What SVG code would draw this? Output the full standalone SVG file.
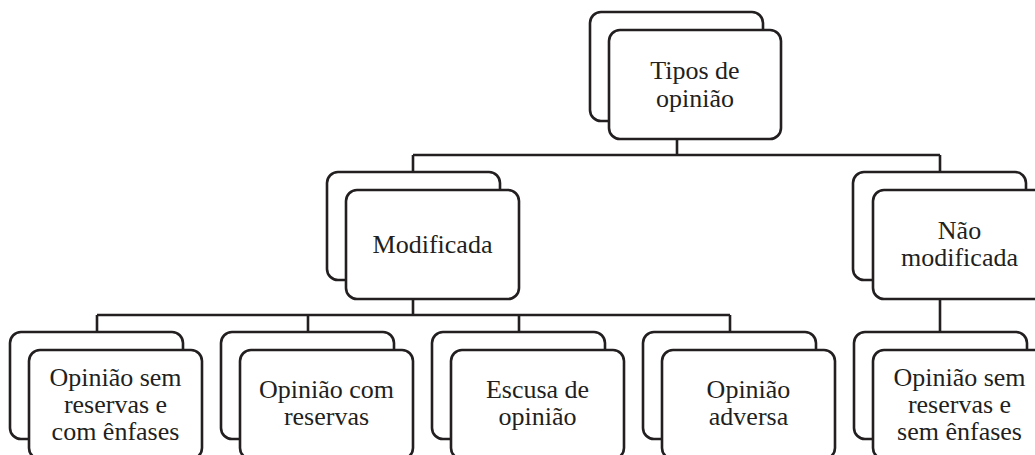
<svg xmlns="http://www.w3.org/2000/svg" width="1035" height="455" viewBox="0 0 1035 455">
<style>
rect{fill:#fff;stroke:#231f20;stroke-width:2.6}
.c path{fill:none;stroke:#231f20;stroke-width:2.6}
text{font-family:"Liberation Serif","Times New Roman",serif;font-size:26px;fill:#231f20;text-anchor:middle}
</style>
<rect width="1035" height="455" style="fill:#fff;stroke:none"/>
<g class="c" id="connectors">
<path d="M677,139V155M413,155H940M413,155V172M940,155V172"/>
<path d="M413,299V315M97,315H730M97,315V332M308,315V332M519,315V332M730,315V332"/>
<path d="M940,299V332"/>
</g>
<g id="n-tipos">
<rect x="590" y="12" width="173" height="109" rx="11"/>
<rect x="609" y="30" width="172" height="109" rx="11"/>
<text x="695" y="79">Tipos de</text><text x="695" y="107">opinião</text>
</g>
<g id="n-modificada">
<rect x="327" y="172" width="173" height="108" rx="11"/>
<rect x="346" y="190" width="173" height="109" rx="11"/>
<text x="432.5" y="253">Modificada</text>
</g>
<g id="n-naomodificada">
<rect x="853" y="172" width="173" height="108" rx="11"/>
<rect x="873" y="190" width="173" height="109" rx="11"/>
<text x="959.5" y="239">Não</text><text x="959.5" y="266">modificada</text>
</g>
<g id="n-semreservas-com">
<rect x="10" y="332" width="173" height="107" rx="11"/>
<rect x="29" y="350" width="173" height="109" rx="11"/>
<text x="115.5" y="386">Opinião sem</text><text x="115.5" y="413">reservas e</text><text x="115.5" y="440">com ênfases</text>
</g>
<g id="n-comreservas">
<rect x="221" y="332" width="173" height="107" rx="11"/>
<rect x="240" y="350" width="173" height="109" rx="11"/>
<text x="326.5" y="398">Opinião com</text><text x="326.5" y="425">reservas</text>
</g>
<g id="n-escusa">
<rect x="432" y="332" width="173" height="107" rx="11"/>
<rect x="451" y="350" width="173" height="109" rx="11"/>
<text x="537.5" y="398">Escusa de</text><text x="537.5" y="425">opinião</text>
</g>
<g id="n-adversa">
<rect x="643" y="332" width="173" height="107" rx="11"/>
<rect x="662" y="350" width="173" height="109" rx="11"/>
<text x="748.5" y="398">Opinião</text><text x="748.5" y="425">adversa</text>
</g>
<g id="n-semreservas-sem">
<rect x="854" y="332" width="173" height="107" rx="11"/>
<rect x="873" y="350" width="173" height="109" rx="11"/>
<text x="959.5" y="386">Opinião sem</text><text x="959.5" y="413">reservas e</text><text x="959.5" y="440">sem ênfases</text>
</g>
</svg>
